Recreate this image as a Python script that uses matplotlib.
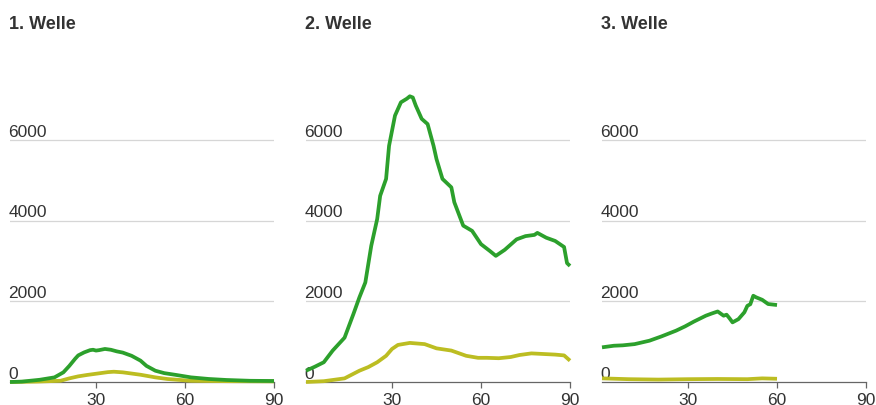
import matplotlib
matplotlib.use("Agg")
import matplotlib.pyplot as plt

plt.rcParams['font.family'] = ['Liberation Sans', 'DejaVu Sans']

titles = ["1. Welle", "2. Welle", "3. Welle"]
y_ticks = [0, 2000, 4000, 6000]
x_ticks = [30, 60, 90]

# wave 1
w1_green_days = [1, 5, 11, 16, 19, 21, 23, 24, 26, 28, 29, 30, 31, 33, 35, 37, 39, 42, 45, 47, 50, 53, 57, 62, 68, 74, 82, 90]
w1_green = [0, 10, 55, 115, 240, 400, 580, 660, 735, 790, 800, 780, 790, 820, 800, 760, 730, 650, 530, 400, 280, 220, 175, 115, 75, 50, 30, 25]
w1_yellow_days = [1, 10, 18, 21, 24, 27, 31, 34, 36, 39, 42, 45, 50, 54, 62, 75, 90]
w1_yellow = [0, 10, 30, 90, 140, 175, 215, 245, 255, 240, 210, 180, 115, 75, 30, 20, 15]

# wave 2
w2_green_days = [1, 4, 7, 10, 14, 17, 19, 21, 23, 25, 26, 28, 29, 31, 33, 35, 36, 37, 38, 40, 42, 44, 45, 47, 50, 51, 54, 57,
                 60, 63, 65, 68, 72, 75, 78, 79, 82, 85, 88, 89, 90]
w2_green = [280, 380, 490, 780, 1100, 1690, 2100, 2470, 3380, 4045, 4620, 5040, 5860, 6610, 6940, 7030, 7090, 7060, 6860,
            6530, 6400, 5860, 5530, 5040, 4830, 4460, 3880, 3750, 3420, 3250, 3130, 3280, 3540, 3620, 3650, 3700, 3580,
            3500, 3350, 2950, 2880]
w2_yellow_days = [1, 7, 14, 19, 22, 25, 28, 30, 32, 36, 41, 45, 50, 55, 59, 62, 66, 70, 73, 77, 81, 85, 88, 90]
w2_yellow = [0, 20, 90, 280, 370, 490, 650, 820, 920, 970, 940, 835, 780, 650, 600, 600, 590, 620, 670, 710, 695, 680, 660, 530]

# wave 3
w3_green_days = [1, 3, 5, 8, 12, 17, 21, 26, 29, 32, 36, 38, 40, 42, 43, 44, 45, 47, 49, 50, 51, 52, 53, 55, 57, 60]
w3_green = [860, 880, 900, 910, 940, 1025, 1130, 1275, 1380, 1500, 1645, 1700, 1750, 1645, 1670, 1580, 1480, 1560, 1730,
            1890, 1930, 2140, 2100, 2040, 1935, 1910]
w3_yellow_days = [1, 10, 20, 30, 40, 50, 55, 60]
w3_yellow = [90, 70, 60, 70, 75, 70, 90, 80]

waves = [
    (w1_green_days, w1_green, w1_yellow_days, w1_yellow),
    (w2_green_days, w2_green, w2_yellow_days, w2_yellow),
    (w3_green_days, w3_green, w3_yellow_days, w3_yellow),
]

W, H = 876, 406
fig = plt.figure(figsize=(W / 100, H / 100), dpi=100)

lefts = [10, 306, 602]
ax_w = 264
bottom_px = 383
ymax = 7600
px_per_unit = 0.0403
ax_h = ymax * px_per_unit

green = "#2ca02c"
yellow = "#bcbd22"
txt = "#333333"

for i, (gd, gv, yd, yv) in enumerate(waves):
    ax = fig.add_axes([lefts[i] / W, (H - bottom_px) / H, ax_w / W, ax_h / H])
    ax.set_xlim(1, 90)
    ax.set_ylim(0, ymax)
    for s in ["top", "right", "left"]:
        ax.spines[s].set_visible(False)
    ax.spines["bottom"].set_color("#666666")
    ax.spines["bottom"].set_linewidth(0.9)
    ax.set_yticks([])
    for t in y_ticks[1:]:
        ax.axhline(t, color="#d6d6d6", lw=0.9, zorder=0)
    for t in y_ticks:
        ax.annotate(str(t), xy=(0, t), xycoords=("axes fraction", "data"),
                    xytext=(-1, 1), textcoords="offset points",
                    ha="left", va="bottom", fontsize=12.5, color=txt)
    ax.set_xticks(x_ticks)
    ax.set_xticklabels([str(x) for x in x_ticks])
    ax.tick_params(axis="x", length=4, width=0.9, color="#666666", labelsize=12.5,
                   labelcolor=txt, pad=3)
    ax.plot(yd, yv, color=yellow, lw=2.7, clip_on=False, solid_capstyle="butt", zorder=3)
    ax.plot(gd, gv, color=green, lw=2.7, clip_on=False, solid_capstyle="butt", zorder=4)
    fig.text((lefts[i] - 1) / W, (H - 29) / H, titles[i], fontsize=13, fontweight="bold",
             color=txt, ha="left", va="baseline")

fig.savefig("out.png", dpi=100)
